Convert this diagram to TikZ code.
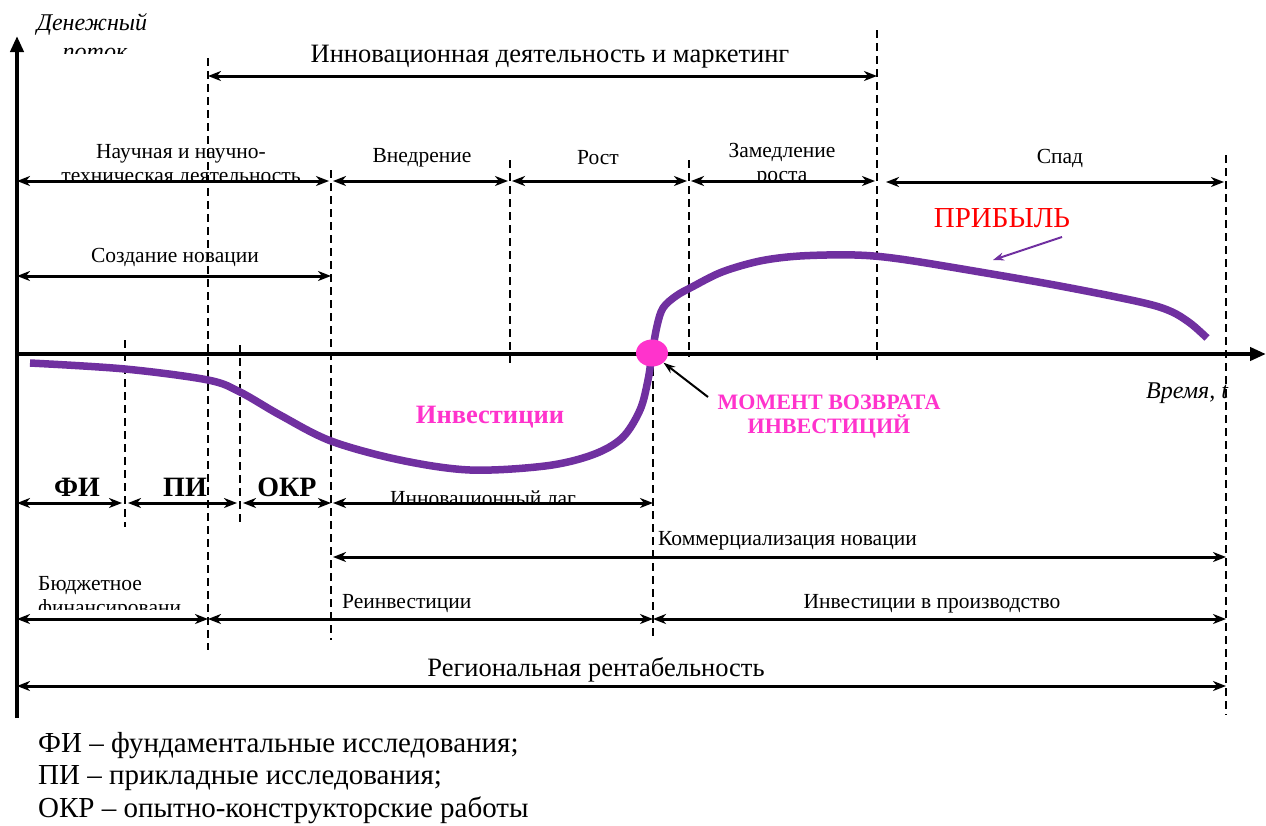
\documentclass[tikz,border=0pt]{standalone}
\usepackage{fontspec}
\setmainfont{Liberation Serif}
\usetikzlibrary{arrows.meta,shapes.geometric}
\definecolor{curvepurple}{HTML}{7030A0}
\definecolor{hotpink}{HTML}{FF33CC}
\begin{document}
\begin{tikzpicture}[x=1pt,y=-1pt,
  tip/.tip={Stealth[length=13pt,width=10pt,inset=4pt]},
  span/.style={line width=3pt,{tip}-{tip}},
  guide/.style={line width=1.6pt,dash pattern=on 8pt off 5pt},
  axis/.style={line width=4.5pt,-{Triangle[length=16pt,width=13pt]}},
  lbl/.style={font=\fontsize{21.5}{24}\selectfont,inner sep=0pt,align=center},
  big/.style={font=\fontsize{26.5}{29}\selectfont,inner sep=0pt},
  phase/.style={font=\bfseries\fontsize{28}{30}\selectfont,inner sep=0pt},
  note/.style={font=\fontsize{29}{32}\selectfont,inner sep=0pt,anchor=west}
]
\useasboundingbox (0,0) rectangle (1266,825);

% ---------- axes ----------
\coordinate (O) at (17,354);
\coordinate (ytop) at (17,36);
\coordinate (ybot) at (17,718);
\coordinate (xend) at (1266,354);
\draw[axis] (ybot) -- (ytop);
\draw[axis] (O) -- (xend);

\begin{scope}
  \clip (0,0) rectangle (300,53);
  \node[font=\itshape\fontsize{24}{28}\selectfont,inner sep=0pt,anchor=base] (yname) at (92,30) {Денежный};
  \node[font=\itshape\fontsize{24}{28}\selectfont,inner sep=0pt,anchor=base] (yname2) at (95,59) {поток};
\end{scope}
\node[font=\itshape\fontsize{24}{26}\selectfont,inner sep=0pt] (xname) at (1187,393) {Время, t};

% ---------- dashed guides ----------
\foreach \n/\x/\a/\b in {g1/125/340/527, g2/208/58/650, g3/240/345/522, g4/331/170/640,
                         g5/510/160/365, g6/653/368/640, g7/689/160/357, g8/877/30/360,
                         g9/1226/155/715}{
  \coordinate (\n t) at (\x,\a);
  \coordinate (\n b) at (\x,\b);
  \draw[guide] (\n t) -- (\n b);
}

% ---------- top span ----------
\coordinate (m1) at (208,76);
\coordinate (m2) at (877,76);
\draw[span] (m1) -- (m2);
\node[big] (mkt) at (550,57) {Инновационная деятельность и маркетинг};

% ---------- life-cycle row ----------
\coordinate (s0) at (17,181);
\coordinate (s1) at (331,181);
\coordinate (s2) at (510,181);
\coordinate (s3) at (689,181);
\coordinate (s4) at (877,181);
\coordinate (s5) at (880,182);
\coordinate (s6) at (1226,182);
\begin{scope}
  \clip (0,120) rectangle (1266,181);
  \node[lbl,anchor=base] (sci) at (181,158) {Научная и научно-};
  \node[lbl,anchor=base] (sci2) at (181,182) {техническая деятельность};
  \node[lbl,anchor=base] (slow) at (782,157) {Замедление};
  \node[lbl,anchor=base] (slow2) at (782,181) {роста};
\end{scope}
\node[lbl] (intro) at (422,158) {Внедрение};
\node[lbl] (grow) at (598,158) {Рост};
\node[lbl] (decl) at (1060,158) {Спад};
\draw[span] (s0) -- ([xshift=-2pt]s1);
\draw[span] ([xshift=2pt]s1) -- ([xshift=-2pt]s2);
\draw[span] ([xshift=2pt]s2) -- ([xshift=-2pt]s3);
\draw[span] ([xshift=2pt]s3) -- ([xshift=-2pt]s4);
\draw[span] ([xshift=6pt]s5) -- ([xshift=-2pt]s6);

% ---------- creation span ----------
\coordinate (c0) at (17,276);
\coordinate (c1) at (331,276);
\draw[span] (c0) -- (c1);
\node[lbl] (create) at (175,257) {Создание новации};

% ---------- cash-flow curve ----------
\draw[curvepurple,line width=7.5pt,line cap=butt] plot[smooth,tension=0.55] coordinates {
  (30,363) (125,369) (208,380) (240,392) (280,415) (331,441) (400,460) (470,470)
  (545,466) (592,455) (622,438) (640,410) (648,380) (652,354) (657,326) (663,308)
  (676,296) (692,287) (722,272) (760,261) (800,256) (855,255) (900,259) (980,272)
  (1060,286) (1140,302) (1170,311) (1190,323) (1207,338)};
\node[ellipse,fill=hotpink,minimum width=32pt,minimum height=27pt,inner sep=0pt]
  (ret) at (652,353) {};
\node[font=\bfseries\fontsize{26.5}{28}\selectfont,text=hotpink,inner sep=0pt] (inv) at (490,417) {Инвестиции};
\node[font=\bfseries\fontsize{22}{24}\selectfont,text=hotpink,inner sep=0pt,align=center] (retlbl) at (829,417)
  {МОМЕНТ ВОЗВРАТА\\ИНВЕСТИЦИЙ};
\coordinate (retfrom) at (708,397);
\draw[line width=2pt,-{Stealth[length=12pt,width=8pt]}] (retfrom) -- (ret.south east);

\node[font=\fontsize{29}{31}\selectfont,text=red,inner sep=0pt] (profit) at (1002,218) {ПРИБЫЛЬ};
\coordinate (pf) at (1062,237);
\coordinate (pt) at (993,260);
\draw[curvepurple,line width=2pt,-{Stealth[length=11pt,width=8pt]}] (pf) -- (pt);

% ---------- research stages ----------
\coordinate (r0) at (17,503);
\coordinate (r1) at (125,503);
\coordinate (r2) at (240,503);
\coordinate (r3) at (331,503);
\coordinate (r4) at (653,503);
\draw[span] (r0) -- ([xshift=-3pt]r1);
\draw[span] ([xshift=3pt]r1) -- ([xshift=-3pt]r2);
\draw[span] ([xshift=3pt]r2) -- (r3);
\draw[span] ([xshift=2pt]r3) -- (r4);
\node[phase] (fi) at (77,487) {ФИ};
\node[phase] (pi) at (185,487) {ПИ};
\node[phase] (okr) at (287,487) {ОКР};
\begin{scope}
  \clip (331,470) rectangle (653,502);
  \node[lbl,anchor=base] (lag) at (483,505) {Инновационный лаг};
\end{scope}

% ---------- commercialisation ----------
\coordinate (k0) at (333,557);
\coordinate (k1) at (1226,557);
\draw[span] (k0) -- (k1);
\node[lbl,anchor=west] (comm) at (658,541) {Коммерциализация новации};

% ---------- financing ----------
\coordinate (f0) at (17,619);
\coordinate (f1) at (208,619);
\coordinate (f2) at (653,619);
\coordinate (f3) at (1226,619);
\draw[span] (f0) -- (f1);
\draw[span] (f1) -- (f2);
\draw[span] (f2) -- (f3);
\begin{scope}
  \clip (0,560) rectangle (208,609);
  \node[lbl,anchor=base west] (budget) at (38,590) {Бюджетное};
  \node[lbl,anchor=base west] (budget2) at (38,614) {финансировани};
\end{scope}
\node[lbl,anchor=west] (reinv) at (342,604) {Реинвестиции};
\node[lbl] (prodinv) at (932,604) {Инвестиции в производство};

% ---------- regional profitability ----------
\coordinate (p0) at (17,686);
\coordinate (p1) at (1226,686);
\draw[span] (p0) -- (p1);
\node[big] (region) at (596,670) {Региональная рентабельность};

% ---------- legend ----------
\node[note] (n1) at (38,746) {ФИ – фундаментальные исследования;};
\node[note] (n2) at (38,778) {ПИ – прикладные исследования;};
\node[note] (n3) at (38,810) {ОКР – опытно-конструкторские работы};
\end{tikzpicture}
\end{document}
